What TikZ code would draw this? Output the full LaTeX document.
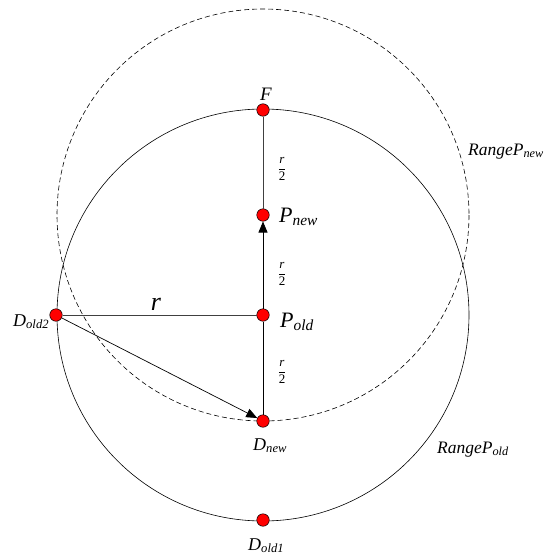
\documentclass[tikz,border=0pt]{standalone}
\usepackage{fontspec,amsmath}
\setmainfont{Liberation Serif}
\usetikzlibrary{arrows.meta,calc,positioning,backgrounds}

\begin{document}
\begin{tikzpicture}[x=1pt,y=-1pt,>={Triangle[length=11pt,width=9pt]},
 dot/.style={circle,draw=black,line width=.5pt,fill=red,inner sep=0pt,minimum size=12.5pt},
 plbl/.style={inner sep=0pt,font=\fontsize{22}{24}\selectfont\itshape},
 dlbl/.style={inner sep=0pt,font=\fontsize{18}{20}\selectfont\itshape},
 rglbl/.style={inner sep=0pt,font=\fontsize{17.5}{19}\selectfont\itshape},
 half/.style={inner sep=0pt,font=\fontsize{13}{14}\selectfont}]
\useasboundingbox (0,0) rectangle (550,554);
\foreach \n/\x/\y in {F/263/110,Pnew/263/215,Pold/263/315,Dnew/263/421,Dold1/263/520,Dold2/56/315}{
 \node[dot] (\n) at (\x,\y) {};
}
\begin{scope}[on background layer]
\draw[line width=.6pt] (Pold.center) circle[radius=206];
\draw[line width=.6pt,dash pattern=on 5pt off 3pt] (Pnew.center) circle[radius=206];
\end{scope}
\draw[black!75,line width=.7pt] (F) -- (Pnew);
\draw[black!75,line width=.7pt] (Dold2) -- (Pold);
\draw[->,line width=.7pt] (Pold) -- (Pnew);
\draw[line width=.7pt] (Pold) -- (Dnew);
\draw[->,line width=.7pt] (Dold2) -- (Dnew);
% labels
\node[plbl,anchor=base] (Flbl) at (266,100) {\fontsize{19}{21}\selectfont F};
\node[plbl,anchor=base west] (Pnewlbl) at (279,222) {P\textsubscript{new}};
\node[plbl,anchor=base west] (Poldlbl) at (280,327) {P\textsubscript{old}};
\node[dlbl,anchor=base west] (Dnewlbl) at (253,450) {D\textsubscript{new}};
\node[dlbl,anchor=base west] (Dold1lbl) at (248,550) {D\textsubscript{old1}};
\node[dlbl,anchor=base west] (Dold2lbl) at (13,326) {D\textsubscript{old2}};
\node[plbl,anchor=base] (rlbl) at (156,310) {\fontsize{26}{28}\selectfont r};
\foreach \n/\y in {a/169,b/274,c/372}{
 \node[half] (half\n) at (282,\y) {$\dfrac{\text{\itshape r}}{\text{2}}$};
}
\node[rglbl,anchor=base west] (Rnew) at (468,155) {RangeP\textsubscript{new}};
\node[rglbl,anchor=base west] (Rold) at (437,453) {RangeP\textsubscript{old}};
\end{tikzpicture}
\end{document}
